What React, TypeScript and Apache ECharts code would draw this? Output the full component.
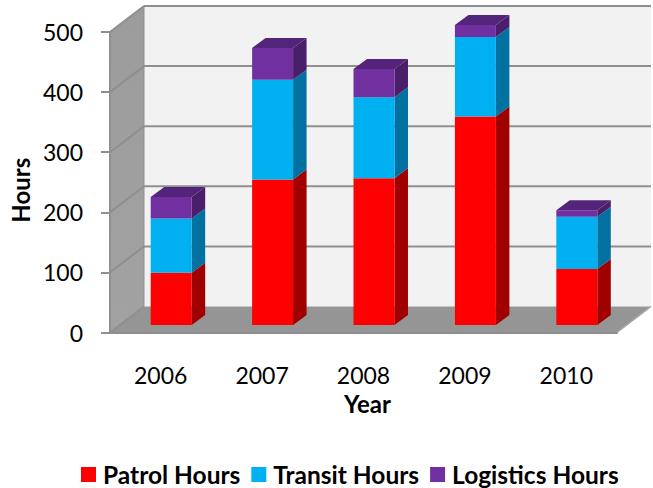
import React, { useEffect, useRef } from "react";
import * as echarts from "echarts";

const years = ["2006", "2007", "2008", "2009", "2010"];
const patrolHours = [87, 242, 244, 347, 93];
const transitHours = [90, 166, 135, 132, 87];
const logisticsHours = [36, 53, 47, 20, 11];
const yTicks = [0, 100, 200, 300, 400, 500];

const FONT = "Lato";
const GREY = "#8f8f8f";
const WALL_DX = 34;
const WALL_DY = -26;
const BAR_OFF_X = 10.5;
const BAR_OFF_Y = -7.5;
const BAR_DX = 13.5;
const BAR_DY = -10;

function wallsRender(params: any, api: any) {
  const cs = params.coordSys;
  const x0 = cs.x;
  const x1 = cs.x + cs.width;
  const yBase = api.coord([0, 0])[1];
  const yTop = api.coord([0, 500])[1];
  const children: any[] = [
    {
      type: "polygon",
      shape: { points: [[x0, yBase], [x0 + WALL_DX, yBase + WALL_DY], [x0 + WALL_DX, yTop + WALL_DY], [x0, yTop]] },
      style: {
        fill: new echarts.graphic.LinearGradient(0, 0, 0, 1, [
          { offset: 0, color: "#9c9c9c" },
          { offset: 1, color: "#a2a2a2" },
        ]),
      },
    },
    {
      type: "rect",
      shape: { x: x0 + WALL_DX, y: yTop + WALL_DY, width: cs.width, height: yBase - yTop },
      style: { fill: "#f2f2f2" },
    },
    {
      type: "polygon",
      shape: { points: [[x0, yBase], [x1, yBase], [x1 + WALL_DX, yBase + WALL_DY], [x0 + WALL_DX, yBase + WALL_DY]] },
      style: { fill: "#959595" },
    },
  ];
  yTicks.forEach((t) => {
    const y = api.coord([0, t])[1];
    if (t > 0) {
      children.push({
        type: "line",
        shape: { x1: x0 + WALL_DX, y1: y + WALL_DY, x2: x1 + WALL_DX, y2: y + WALL_DY },
        style: { stroke: GREY, lineWidth: 2 },
      });
    }
    children.push({
      type: "line",
      shape: { x1: x0, y1: y, x2: x0 + WALL_DX, y2: y + WALL_DY },
      style: { stroke: GREY, lineWidth: 2 },
    });
  });
  children.push({
    type: "line",
    shape: { x1: x0 + WALL_DX, y1: yTop + WALL_DY, x2: x0 + WALL_DX, y2: yBase + WALL_DY },
    style: { stroke: GREY, lineWidth: 1 },
  });
  children.push({
    type: "line",
    shape: { x1: x1, y1: yBase, x2: x1 + WALL_DX, y2: yBase + WALL_DY },
    style: { stroke: "#a8a8a8", lineWidth: 1.5 },
  });
  return { type: "group", children };
}

function barRender(front: string, side: string, topFace: string | null) {
  return (_params: any, api: any) => {
    const cat = api.value(0);
    const a = api.coord([cat, api.value(1)]);
    const b = api.coord([cat, api.value(2)]);
    const w = api.size([1, 0])[0] * 0.404;
    const l = a[0] + BAR_OFF_X - w / 2;
    const r = l + w;
    const yb = a[1] + BAR_OFF_Y;
    const yt = b[1] + BAR_OFF_Y;
    const children: any[] = [
      {
        type: "polygon",
        shape: { points: [[r, yb], [r + BAR_DX, yb + BAR_DY], [r + BAR_DX, yt + BAR_DY], [r, yt]] },
        style: { fill: side },
      },
      {
        type: "rect",
        shape: { x: l, y: yt, width: w, height: yb - yt },
        style: { fill: front },
      },
    ];
    if (topFace) {
      children.push({
        type: "polygon",
        shape: { points: [[l, yt], [r, yt], [r + BAR_DX, yt + BAR_DY], [l + BAR_DX, yt + BAR_DY]] },
        style: { fill: topFace },
      });
    }
    return { type: "group", children };
  };
}

function stackData(values: number[], below: number[][]) {
  return values.map((v, i) => {
    const base = below.reduce((s, arr) => s + arr[i], 0);
    return [i, base, base + v];
  });
}

export default function App() {
  const ref = useRef<HTMLDivElement>(null);
  useEffect(() => {
    const chart = echarts.init(ref.current!, null, { renderer: "svg" });
    chart.setOption({
      animation: false,
      backgroundColor: "#ffffff",
      textStyle: { fontFamily: FONT },
      grid: { left: 110, right: 36, top: 32, bottom: 155.5, outerBoundsMode: "none" },
      legend: {
        left: 76,
        top: 457,
        itemWidth: 15,
        itemHeight: 15,
        itemGap: 11,
        icon: "rect",
        data: ["Patrol Hours", "Transit Hours", "Logistics Hours"],
        textStyle: { fontFamily: FONT, fontWeight: "bold", fontSize: 24.5, color: "#000", padding: [0, 0, 0, 2] },
      },
      xAxis: {
        type: "category",
        data: years,
        name: "Year",
        nameLocation: "middle",
        nameGap: 59,
        nameTextStyle: { fontFamily: FONT, fontWeight: "bold", fontSize: 24, color: "#000", padding: [0, 0, 0, 8] },
        axisLine: { lineStyle: { color: GREY, width: 2 } },
        axisTick: { length: 8, lineStyle: { color: GREY, width: 2 } },
        axisLabel: { fontFamily: FONT, fontSize: 23, color: "#000", margin: 31 },
        z: 5,
      },
      yAxis: {
        type: "value",
        min: 0,
        max: 500,
        interval: 100,
        name: "Hours",
        nameLocation: "middle",
        nameGap: 75,
        nameTextStyle: { fontFamily: FONT, fontWeight: "bold", fontSize: 24, color: "#000", padding: [0, 16, 0, 0] },
        axisLine: { show: true, lineStyle: { color: GREY, width: 2 } },
        axisTick: { show: true, length: 9, lineStyle: { color: GREY, width: 2 } },
        axisLabel: { fontFamily: FONT, fontSize: 23, color: "#000", margin: 27 },
        splitLine: { show: false },
        z: 5,
      },
      series: [
        {
          type: "custom",
          name: "walls",
          silent: true,
          renderItem: wallsRender,
          data: [[0, 0, 0]],
          encode: { x: 0, y: 1 },
          z: 1,
        },
        {
          type: "custom",
          name: "Patrol Hours",
          itemStyle: { color: "#ff0000" },
          renderItem: barRender("#ff0000", "#a00000", null),
          data: stackData(patrolHours, []),
          encode: { x: 0, y: [1, 2] },
          z: 2,
        },
        {
          type: "custom",
          name: "Transit Hours",
          itemStyle: { color: "#00b0f0" },
          renderItem: barRender("#00b0f0", "#0071a0", null),
          data: stackData(transitHours, [patrolHours]),
          encode: { x: 0, y: [1, 2] },
          z: 3,
        },
        {
          type: "custom",
          name: "Logistics Hours",
          itemStyle: { color: "#7030a0" },
          renderItem: barRender("#7030a0", "#481f68", "#54247a"),
          data: stackData(logisticsHours, [patrolHours, transitHours]),
          encode: { x: 0, y: [1, 2] },
          z: 4,
        },
      ],
    });
    return () => chart.dispose();
  }, []);
  return <div ref={ref} style={{ position: "absolute", left: 0, top: 0, width: 653, height: 488 }} />;
}
